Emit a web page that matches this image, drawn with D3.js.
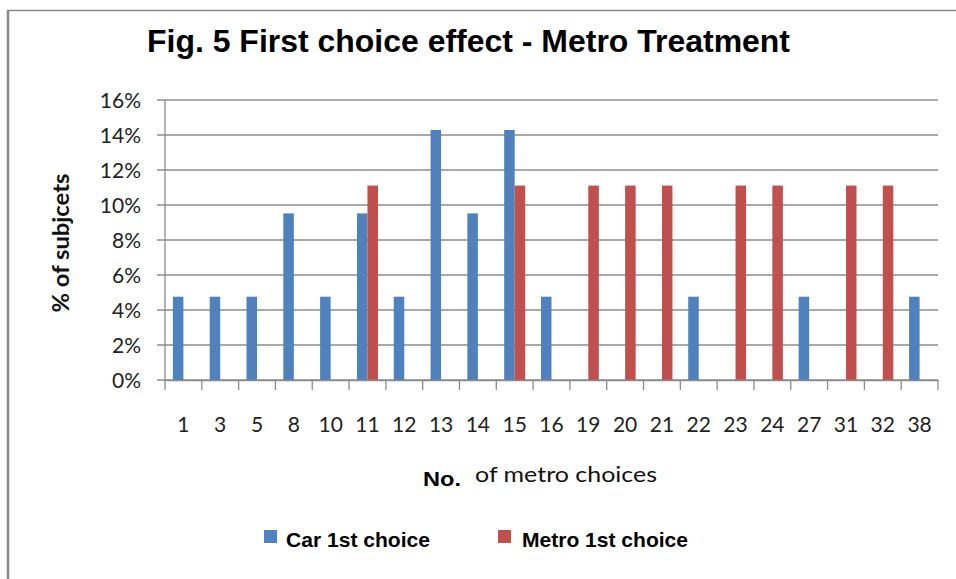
<!DOCTYPE html>
<html>
<head>
<meta charset="utf-8">
<script src="https://cdn.jsdelivr.net/npm/d3@7"></script>
<style>
  body { margin: 0; background: #fff; }
  svg { display: block; }
</style>
</head>
<body>
<svg id="chart"></svg>
<script>
var categories = ['1', '3', '5', '8', '10', '11', '12', '13', '14', '15', '16', '19', '20', '21', '22', '23', '24', '27', '31', '32', '38'];
var carFirst = [4.76, 4.76, 4.76, 9.52, 4.76, 9.52, 4.76, 14.29, 9.52, 14.29, 4.76, 0, 0, 0, 4.76, 0, 0, 4.76, 0, 0, 4.76];
var metroFirst = [0, 0, 0, 0, 0, 11.11, 0, 0, 0, 11.11, 0, 11.11, 11.11, 11.11, 0, 11.11, 11.11, 0, 11.11, 11.11, 0];
var seriesNames = ['Car 1st choice', 'Metro 1st choice'];
var seriesColors = ['#4f81bd', '#c0504d'];
var yTicks = [0, 2, 4, 6, 8, 10, 12, 14, 16];

var config = {
  svgWidth: 956,
  svgHeight: 579,
  plotLeft: 165,
  plotRight: 938,
  plotTop: 100,
  plotBottom: 380,
  gridColor: '#8c8c8c',
  calibri: 'Lato, "Open Sans", sans-serif',
  arial: '"Liberation Sans", Arial, sans-serif'
};

var svg = d3.select('#chart')
  .attr('width', config.svgWidth)
  .attr('height', config.svgHeight);

// outer frame, runs off the right and bottom edges
svg.append('rect')
  .attr('x', 8)
  .attr('y', 10.5)
  .attr('width', 1000)
  .attr('height', 700)
  .attr('fill', 'none')
  .attr('stroke', '#888')
  .attr('stroke-width', 1.5);
svg.append('line')
  .attr('x1', 8).attr('x2', 8)
  .attr('y1', 10).attr('y2', 579)
  .attr('stroke', '#888')
  .attr('stroke-width', 2.5);

var x0 = d3.scaleBand()
  .domain(categories)
  .range([config.plotLeft, config.plotRight]);

var x1 = d3.scaleBand()
  .domain(seriesNames)
  .range([0, x0.bandwidth()])
  .paddingOuter(0.75);

var y = d3.scaleLinear()
  .domain([0, 16])
  .range([config.plotBottom, config.plotTop]);

// gridlines with left ticks
svg.append('g')
  .selectAll('line')
  .data(yTicks)
  .enter()
  .append('line')
  .attr('x1', config.plotLeft - 8)
  .attr('x2', config.plotRight)
  .attr('y1', function(d) { return y(d); })
  .attr('y2', function(d) { return y(d); })
  .attr('stroke', config.gridColor)
  .attr('stroke-width', 1.3);

svg.append('g')
  .selectAll('text')
  .data(yTicks)
  .enter()
  .append('text')
  .attr('x', 141)
  .attr('y', function(d) { return y(d); })
  .attr('dy', '0.36em')
  .attr('text-anchor', 'end')
  .attr('font-family', config.calibri)
  .attr('font-size', '21px')
  .attr('fill', '#222')
  .text(function(d) { return d + '%'; });

// left axis line
svg.append('line')
  .attr('x1', config.plotLeft).attr('x2', config.plotLeft)
  .attr('y1', config.plotTop).attr('y2', config.plotBottom)
  .attr('stroke', config.gridColor)
  .attr('stroke-width', 1.3);

// bars
var seriesValues = [carFirst, metroFirst];
var groups = svg.append('g')
  .selectAll('g')
  .data(categories)
  .enter()
  .append('g')
  .attr('transform', function(d) { return 'translate(' + x0(d) + ',0)'; });

groups.selectAll('rect')
  .data(function(d, i) {
    return seriesNames.map(function(s, k) { return { series: s, value: seriesValues[k][i], color: seriesColors[k] }; });
  })
  .enter()
  .filter(function(d) { return d.value > 0; })
  .append('rect')
  .attr('x', function(d) { return x1(d.series); })
  .attr('width', x1.bandwidth())
  .attr('y', function(d) { return y(d.value); })
  .attr('height', function(d) { return y(0) - y(d.value); })
  .attr('fill', function(d) { return d.color; });

// bottom axis
var xAxis = svg.append('g')
  .attr('transform', 'translate(0,' + config.plotBottom + ')')
  .call(d3.axisBottom(x0).tickSize(0).tickSizeOuter(0));
xAxis.select('.domain')
  .attr('stroke', config.gridColor)
  .attr('stroke-width', 1.3);
xAxis.selectAll('text')
  .attr('font-family', config.calibri)
  .attr('font-size', '21px')
  .attr('fill', '#222')
  .attr('y', 52)
  .attr('dy', 0);

var boundaries = categories.map(function(c) { return x0(c); }).concat([config.plotRight]);
xAxis.append('g')
  .selectAll('line')
  .data(boundaries)
  .enter()
  .append('line')
  .attr('x1', function(d) { return d; })
  .attr('x2', function(d) { return d; })
  .attr('y1', 0)
  .attr('y2', 10)
  .attr('stroke', config.gridColor)
  .attr('stroke-width', 1.3);

// title
svg.append('text')
  .attr('x', 147)
  .attr('y', 52)
  .attr('font-family', config.arial)
  .attr('font-weight', 'bold')
  .attr('font-size', '32px')
  .attr('textLength', 643)
  .attr('lengthAdjust', 'spacingAndGlyphs')
  .attr('fill', '#000')
  .text('Fig. 5 First choice effect - Metro Treatment');

// y axis title
svg.append('text')
  .attr('transform', 'translate(69,243) rotate(-90)')
  .attr('text-anchor', 'middle')
  .attr('font-family', config.calibri)
  .attr('font-weight', 'bold')
  .attr('font-size', '22px')
  .attr('textLength', 139)
  .attr('lengthAdjust', 'spacingAndGlyphs')
  .attr('fill', '#111')
  .text('% of subjcets');

// x axis title
svg.append('text')
  .attr('x', 423)
  .attr('y', 486)
  .attr('font-family', config.arial)
  .attr('font-weight', 'bold')
  .attr('font-size', '21px')
  .attr('textLength', 38)
  .attr('lengthAdjust', 'spacingAndGlyphs')
  .attr('fill', '#000')
  .text('No.');
svg.append('text')
  .attr('x', 475)
  .attr('y', 482)
  .attr('font-family', config.calibri)
  .attr('font-size', '22px')
  .attr('textLength', 182)
  .attr('lengthAdjust', 'spacingAndGlyphs')
  .attr('fill', '#111')
  .text('of metro choices');

// legend
var legendX = [264, 498];
var legendTextLength = [144, 166];
var legend = svg.append('g')
  .selectAll('g')
  .data(seriesNames)
  .enter()
  .append('g')
  .attr('transform', function(d, i) { return 'translate(' + legendX[i] + ',0)'; });
legend.append('rect')
  .attr('x', 0)
  .attr('y', 530)
  .attr('width', 13)
  .attr('height', 13)
  .attr('fill', function(d, i) { return seriesColors[i]; });
legend.append('text')
  .attr('x', function(d, i) { return i === 0 ? 22 : 24; })
  .attr('y', 547)
  .attr('font-family', config.arial)
  .attr('font-weight', 'bold')
  .attr('font-size', '21px')
  .attr('textLength', function(d, i) { return legendTextLength[i]; })
  .attr('lengthAdjust', 'spacingAndGlyphs')
  .attr('fill', '#000')
  .text(function(d) { return d; });
</script>
</body>
</html>
